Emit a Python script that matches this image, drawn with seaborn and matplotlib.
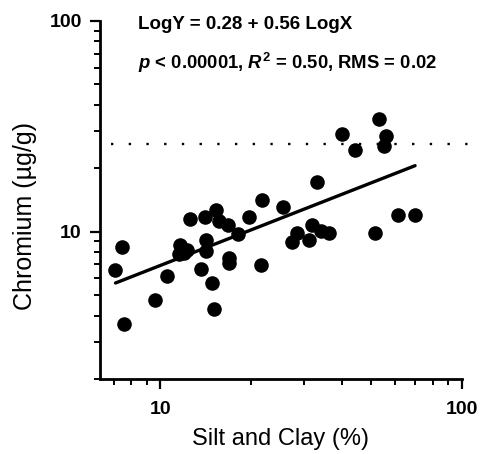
import numpy as np
import pandas as pd
import matplotlib
matplotlib.use("Agg")
import matplotlib.pyplot as plt
import seaborn as sns
from matplotlib.ticker import LogLocator, NullFormatter

# silt and clay content (%) vs chromium (ug/g)
silt_clay = [7.44, 7.10, 7.55, 9.61, 10.5, 12.5, 14.1, 15.3, 15.7, 16.8, 18.1,
             19.7, 21.8, 25.6, 33.1, 31.8, 34.0, 36.2, 28.3, 27.3, 31.2, 51.5,
             61.3, 70.0, 40.2, 44.4, 53.2, 56.0, 55.2, 11.6, 12.3, 11.5, 12.0,
             14.2, 14.2, 13.6, 14.8, 15.1, 16.9, 16.9, 21.5]
chromium = [8.42, 6.61, 3.66, 4.76, 6.17, 11.5, 11.7, 12.7, 11.2, 10.8, 9.77,
            11.7, 14.2, 13.1, 17.3, 10.8, 10.1, 9.85, 9.81, 8.95, 9.18, 9.87,
            12.0, 12.0, 29.0, 24.4, 34.3, 28.6, 25.6, 8.68, 8.23, 7.82, 7.96,
            9.15, 8.07, 6.67, 5.69, 4.31, 7.50, 7.10, 6.93]

# regression LogY = a + b LogX
intercept = 0.28
slope = 0.56
# dotted reference level
guideline = 26

sns.set_style("ticks")
plt.rcParams['font.family'] = ['Liberation Sans', 'DejaVu Sans']
plt.rcParams['text.color'] = 'black'
plt.rcParams['axes.labelcolor'] = 'black'
plt.rcParams['xtick.color'] = 'black'
plt.rcParams['ytick.color'] = 'black'
plt.rcParams['mathtext.fontset'] = 'custom'
plt.rcParams['mathtext.rm'] = 'Liberation Sans:bold'
plt.rcParams['mathtext.bf'] = 'Liberation Sans:bold'
plt.rcParams['mathtext.it'] = 'Liberation Sans:italic:bold'

df = pd.DataFrame({"silt": silt_clay, "cr": chromium})

fig = plt.figure(figsize=(4.8, 4.54), dpi=100)
ax = fig.add_axes([0.208, 0.165, 0.754, 0.789])

sns.scatterplot(data=df, x="silt", y="cr", color="black", s=110,
                linewidth=0, ax=ax)

# fitted line over the data range
fit_x = np.logspace(np.log10(df["silt"].min()), np.log10(df["silt"].max()), 50)
fit_y = 10 ** (intercept + slope * np.log10(fit_x))
sns.lineplot(x=fit_x, y=fit_y, color="black", linewidth=2.4, ax=ax)

ax.axhline(guideline, xmin=0.03, xmax=1.02, color="black",
           linestyle=(0, (1, 6.5)), linewidth=1.7, clip_on=False)

ax.set_xscale("log")
ax.set_yscale("log")
ax.set_xlim(6.3, 100)
ax.set_ylim(2, 100)

ax.set_xticks([10, 100])
ax.set_xticklabels(["10", "100"])
ax.set_yticks([10, 100])
ax.set_yticklabels(["10", "100"])
for axis in (ax.xaxis, ax.yaxis):
    axis.set_minor_locator(LogLocator(base=10, subs=range(2, 10)))
    axis.set_minor_formatter(NullFormatter())

ax.tick_params(which="major", length=7, width=1.6, direction="out",
               labelsize=14)
ax.tick_params(axis="x", which="major", pad=9)
ax.tick_params(axis="y", which="major", pad=6)
ax.tick_params(which="minor", length=4, width=1.4, direction="out")
for lab in ax.get_xticklabels() + ax.get_yticklabels():
    lab.set_fontweight("bold")

sns.despine(ax=ax)
for side in ("left", "bottom"):
    ax.spines[side].set_linewidth(2)
    ax.spines[side].set_color("black")

ax.set_xlabel("Silt and Clay (%)", fontsize=17, labelpad=7)
ax.set_ylabel("Chromium (\u00b5g/g)", fontsize=18)
ax.yaxis.set_label_coords(-0.175, 0.455)

ax.text(0.105, 0.99, "LogY = 0.28 + 0.56 LogX", transform=ax.transAxes,
        fontsize=13.5, fontweight="bold", va="center")
ax.text(0.105, 0.883, r"$p$ < 0.00001, $R^2$ = 0.50, RMS = 0.02",
        transform=ax.transAxes, fontsize=13.3, fontweight="bold", va="center")

fig.savefig("out.png", dpi=100)
